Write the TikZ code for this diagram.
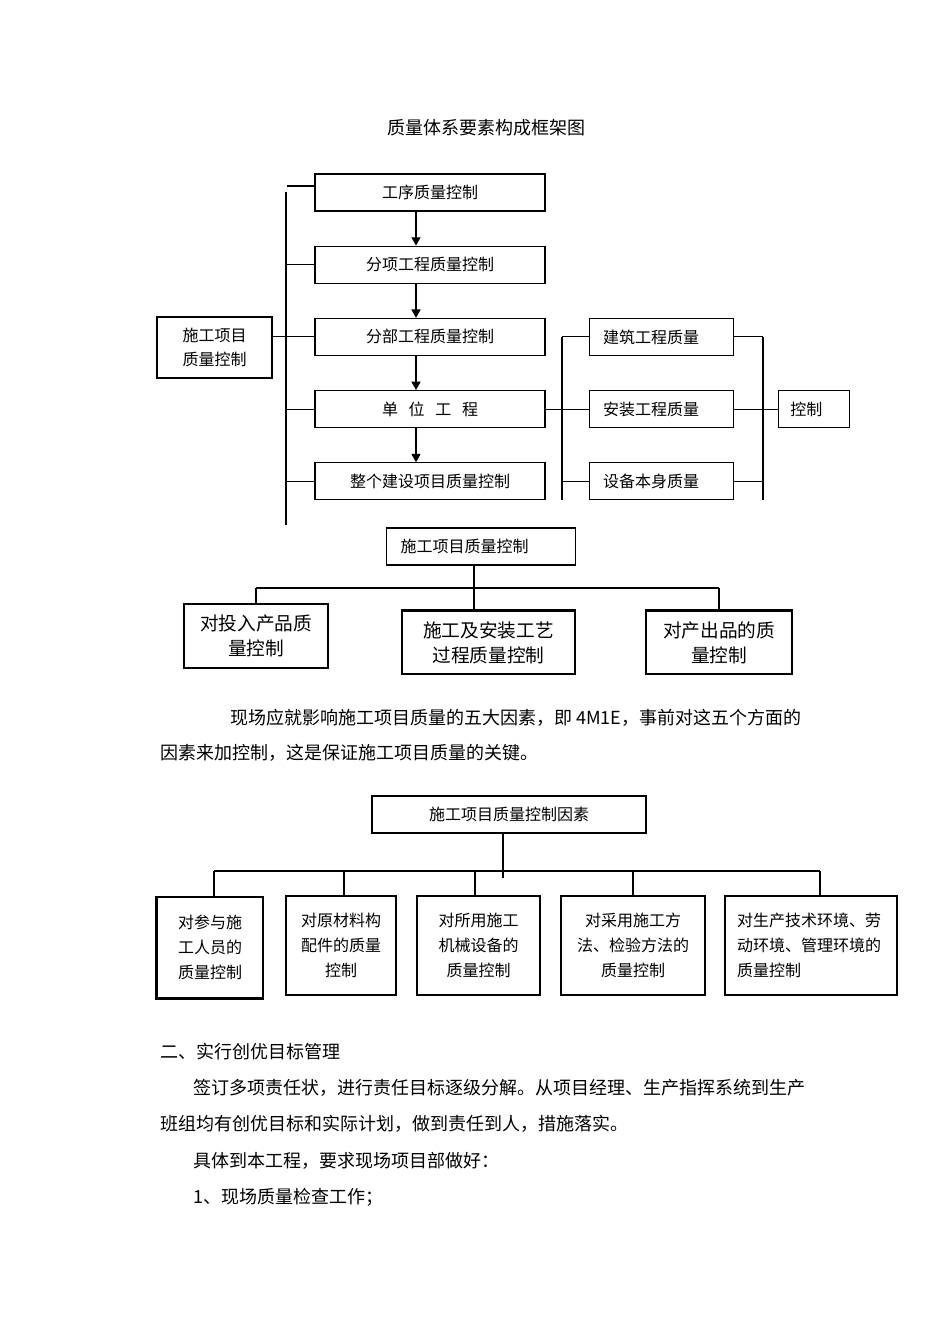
\documentclass[tikz,border=0pt]{standalone}
\usepackage{fontspec}
\setmainfont{Noto Sans CJK SC}
\usetikzlibrary{positioning}
\usetikzlibrary {arrows.meta}
\tikzset{stagebox/.style={rectangle,draw=black,fill=white,line width=0.9pt,
inner sep=2pt,minimum height=27.75pt, minimum width=172.5pt,font=\fontsize{12pt}{14pt}\selectfont}}
\tikzset{rootbox/.style={rectangle,draw=black,fill=white,line width=0.9pt,align=center,
inner sep=2pt,minimum height=45.75pt, minimum width=86.25pt,font=\fontsize{12pt}{18pt}\selectfont}}
\tikzset{partbox/.style={rectangle,draw=black,fill=white,line width=0.9pt,align=left,
inner xsep=10.5pt,inner ysep=2pt,minimum height=27.75pt, text width=87pt,font=\fontsize{12pt}{14pt}\selectfont}}
\tikzset{aspectbox/.style={rectangle,draw=black,fill=white,line width=0.9pt,align=center,
inner sep=2pt,minimum height=48pt, minimum width=108pt,font=\fontsize{14pt}{18.75pt}\selectfont}}
\tikzset{factorbox/.style={rectangle,draw=black,fill=white,line width=0.9pt,align=center,
inner sep=2pt,minimum height=74.25pt,font=\fontsize{12pt}{18.5pt}\selectfont}}
\tikzset{bodytext/.style={anchor=west,inner sep=0pt,font=\fontsize{13.5pt}{16pt}\selectfont}}
\tikzset{busline/.style={line width=0.8pt}}
\tikzset{flow/.style={line width=0.8pt,-{Stealth[length=2.2mm,width=2.4mm,inset=0pt]}}}
\tikzset{heavyedge/.style={line width=1.8pt}}

\begin{document}
\begin{tikzpicture}[x=0.75pt,y=-0.75pt]
    \useasboundingbox (0,0) rectangle (950,1344);

        \node[inner sep=0pt,font=\fontsize{13.5pt}{16pt}\selectfont] (title) at (486,128) {质量体系要素构成框架图};

        \node[stagebox] (gx) at (430,192.5) {工序质量控制};
        \node[stagebox] (fx) [below=25.5pt of gx] {分项工程质量控制};
        \node[stagebox] (fb) [below=25.5pt of fx] {分部工程质量控制};
        \node[stagebox] (dw) [below=25.5pt of fb] {单\hspace{8pt}位\hspace{8pt}工\hspace{8pt}程};
        \node[stagebox] (zg) [below=25.5pt of dw] {整个建设项目质量控制};
        \node[rootbox] (xm) at (214.5,347.5) {施工项目\\质量控制};

        \node[partbox] (jz) [right=32.25pt of fb] {建筑工程质量};
        \node[partbox] (az) [right=32.25pt of dw] {安装工程质量};
        \node[partbox] (sb) [right=32.25pt of zg] {设备本身质量};
        \node[partbox,text width=35.25pt,inner xsep=9pt] (kz) [right=33pt of az] {控制};

        \coordinate (busLs) at (287,186);
        \coordinate (busLt) at (286,192);
        \coordinate (busLb) at (286,525);
        \draw[busline] (busLt) -- (busLb);
        \draw[busline] (busLs) -- (busLs -| gx.west);
        \foreach \b in {fx,dw,zg}
            \draw[busline] (busLt |- \b.west) -- (\b.west);
        \draw[busline] (xm.east |- fb.west) -- (fb.west);

        \coordinate (arrx) at (416,0);
        \foreach \a/\b in {gx/fx,fx/fb,fb/dw,dw/zg}
            \draw[flow] (\a.south -| arrx) -- (\b.north -| arrx);

        \coordinate (busMb) at (562,500);
        \draw[busline] (jz.west -| busMb) -- (busMb);
        \draw[busline] (jz.west -| busMb) -- (jz.west);
        \draw[busline] (dw.east) -- (az.west);
        \draw[busline] (sb.west -| busMb) -- (sb.west);

        \coordinate (busRb) at (763,500);
        \draw[line width=1.6pt] (jz.east -| busRb) -- (busRb);
        \foreach \b in {jz,az,sb}
            \draw[busline] (\b.east) -- (\b.east -| busRb);
        \draw[busline] (az.east -| busRb) -- (kz.west);

        \node[partbox,text width=120.75pt] (xmzl) at (481,546.5) {施工项目质量控制};
        \node[aspectbox] (tr) at (256,636) {对投入产品质\\量控制};
        \node[aspectbox,minimum width=129.75pt,minimum height=47.25pt] (gy) at (488.5,642.5) {施工及安装工艺\\过程质量控制};
        \node[aspectbox,minimum width=109.5pt,minimum height=47.25pt] (cc) at (719,642.5) {对产出品的质\\量控制};

        \coordinate (stemM) at (474,588);
        \draw[busline] (xmzl.south -| stemM) -- (gy.north -| stemM);
        \draw[busline] (stemM -| tr.north) -- (stemM -| cc.north);
        \draw[busline] (stemM -| tr.north) -- (tr.north);
        \draw[busline] (stemM -| cc.north) -- (cc.north);
        \draw[heavyedge] (gy.north west) -- (gy.north east);
        \draw[heavyedge] (cc.north west) -- (cc.north east);

        \node[bodytext] (p1) at (230,718) {现场应就影响施工项目质量的五大因素，即 4M1E，事前对这五个方面的};
        \node[bodytext] (p2) at (160,753) {因素来加控制，这是保证施工项目质量的关键。};

        \node[stagebox,minimum width=205.5pt] (ys) at (509,814.5) {施工项目质量控制因素};
        \node[factorbox,minimum width=79.5pt,minimum height=75.75pt] (ry) at (210,947.5) {对参与施\\工人员的\\质量控制};
        \node[factorbox,minimum width=82.5pt] (cl) at (341,945.5) {对原材料构\\配件的质量\\控制};
        \node[factorbox,minimum width=92.25pt] (jx) at (478.5,945.5) {对所用施工\\机械设备的\\质量控制};
        \node[factorbox,minimum width=108pt] (ff) at (633,945.5) {对采用施工方\\法、检验方法的\\质量控制};
        \node[factorbox,align=left,text width=111pt,inner xsep=9pt] (hj) at (811,945.5) {对生产技术环境、劳\\动环境、管理环境的\\质量控制};

        \coordinate (stemB) at (503,878);
        \coordinate (d1) at (214,871);
        \coordinate (d2) at (344,871);
        \coordinate (d3) at (475,871);
        \coordinate (d4) at (633,871);
        \coordinate (d5) at (820,871);
        \draw[busline] (ys.south -| stemB) -- (stemB);
        \draw[busline] (d1) -- (d5);
        \foreach \d/\b in {d1/ry,d2/cl,d3/jx,d4/ff,d5/hj}
            \draw[busline] (\d) -- (\d |- \b.north);
        \draw[heavyedge] (ry.north west) -- (ry.south west) -- (ry.south east);

        \node[bodytext] (s1) at (160,1052) {二、实行创优目标管理};
        \node[bodytext] (s2) at (193,1088) {签订多项责任状，进行责任目标逐级分解。从项目经理、生产指挥系统到生产};
        \node[bodytext] (s3) at (160,1124) {班组均有创优目标和实际计划，做到责任到人，措施落实。};
        \node[bodytext] (s4) at (193,1161) {具体到本工程，要求现场项目部做好：};
        \node[bodytext] (s5) at (193,1197) {1、现场质量检查工作；};

    \end{tikzpicture}
\end{document}
